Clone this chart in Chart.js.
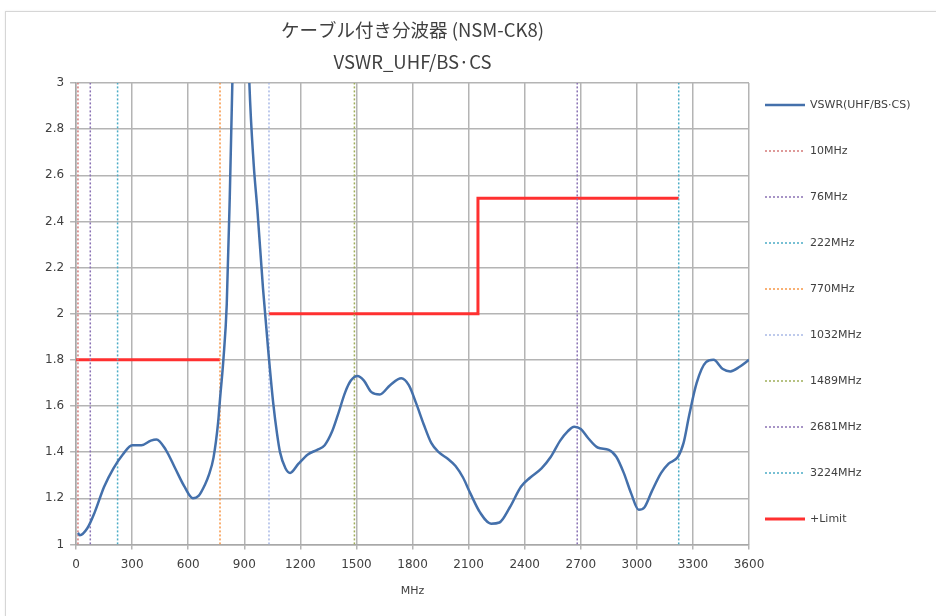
<!DOCTYPE html>
<html>
<head>
<meta charset="utf-8">
<script src="https://cdn.jsdelivr.net/npm/chart.js@4"></script>
<style>
  body { margin: 0; background: #fff; overflow: hidden; }
  #wrap { position: relative; width: 936px; height: 616px; }
  #frame { position: absolute; left: 5px; top: 11px; width: 1000px; height: 700px; border: 1px solid #d6d6d6; box-shadow: 0 0 2px rgba(0,0,0,0.08); }
  #chart { position: absolute; left: 0; top: 0; }
</style>
</head>
<body>
<div id="wrap">
  <div id="frame"></div>
  <canvas id="chart" width="936" height="616"></canvas>
</div>
<script>
// measured VSWR curve (MHz / VSWR)
const freqMHz = [10, 20, 60, 100, 150, 200, 250, 300, 350, 400, 430, 480, 530, 580, 625, 655, 690, 710, 735, 760, 770, 788, 806, 822, 836, 860, 880, 900, 927, 950, 970, 1000, 1027, 1055, 1075, 1091, 1120, 1145, 1190, 1240, 1290, 1330, 1370, 1400, 1440, 1470, 1505, 1540, 1580, 1625, 1680, 1740, 1780, 1820, 1860, 1900, 1940, 1990, 2030, 2070, 2110, 2160, 2220, 2265, 2320, 2380, 2430, 2490, 2540, 2590, 2630, 2665, 2700, 2740, 2790, 2850, 2890, 2930, 2970, 3010, 3040, 3080, 3130, 3170, 3220, 3250, 3280, 3320, 3370, 3410, 3460, 3500, 3550, 3600];
const vswr    = [1.05, 1.04, 1.07, 1.14, 1.25, 1.33, 1.39, 1.43, 1.43, 1.45, 1.455, 1.41, 1.33, 1.25, 1.20, 1.21, 1.26, 1.30, 1.375, 1.53, 1.63, 1.80, 2.04, 2.50, 3.0, 3.75, 4.1, 3.8, 3.0, 2.65, 2.45, 2.11, 1.85, 1.61, 1.48, 1.40, 1.33, 1.31, 1.35, 1.39, 1.41, 1.43, 1.49, 1.56, 1.66, 1.71, 1.73, 1.71, 1.66, 1.65, 1.69, 1.72, 1.69, 1.61, 1.52, 1.44, 1.40, 1.37, 1.34, 1.29, 1.22, 1.14, 1.09, 1.095, 1.16, 1.25, 1.29, 1.33, 1.38, 1.45, 1.49, 1.51, 1.50, 1.46, 1.42, 1.41, 1.38, 1.31, 1.22, 1.15, 1.16, 1.23, 1.31, 1.35, 1.38, 1.44, 1.56, 1.70, 1.79, 1.80, 1.76, 1.75, 1.77, 1.80];

// limit line (null = break)
const limitFreq = [0, 770, null, 1032, 2150, 2150, 3224];
const limitVal  = [1.8, 1.8, null, 2.0, 2.0, 2.5, 2.5];

// marker frequencies
const markerFreq   = [10, 76, 222, 770, 1032, 1489, 2681, 3224];
const markerLabels = ["10MHz", "76MHz", "222MHz", "770MHz", "1032MHz", "1489MHz", "2681MHz", "3224MHz"];
const markerColors = ["#d47a78", "#8a72b4", "#4bacc6", "#f79646", "#a9b9e6", "#9fae5a", "#8a72b4", "#4bacc6"];

const yMin = 1, yMax = 3, yStep = 0.2;
const xMin = 0, xMax = 3600, xStep = 300;

const titleLines = ["ケーブル付き分波器 (NSM-CK8)", "VSWR_UHF/BS·CS"];

const datasets = [];
datasets.push({
  label: "VSWR(UHF/BS·CS)",
  data: freqMHz.map((f, i) => ({ x: f, y: vswr[i] })),
  borderColor: "#4470ab",
  borderWidth: 2.5,
  pointRadius: 0,
  cubicInterpolationMode: "monotone",
  fill: false
});
markerFreq.forEach((f, i) => {
  datasets.push({
    label: markerLabels[i],
    data: [{ x: f, y: yMin }, { x: f, y: yMax }],
    borderColor: markerColors[i],
    borderWidth: 1.5,
    borderDash: [2, 2],
    pointRadius: 0,
    fill: false
  });
});
datasets.push({
  label: "+Limit",
  data: limitFreq.map((f, i) => ({ x: f, y: limitVal[i] })),
  borderColor: "#ff3030",
  borderWidth: 3,
  pointRadius: 0,
  spanGaps: false,
  fill: false
});

// legend on the right, drawn on the canvas
const sideLegend = {
  id: "sideLegend",
  afterDraw(chart) {
    const ctx = chart.ctx;
    const area = chart.chartArea;
    const x0 = area.right + 16, x1 = area.right + 56;
    ctx.save();
    ctx.font = '11px "DejaVu Sans"';
    ctx.textBaseline = "middle";
    chart.data.datasets.forEach((ds, i) => {
      const y = area.top + 22 + i * 46;
      ctx.beginPath();
      ctx.setLineDash(ds.borderDash || []);
      ctx.strokeStyle = ds.borderColor;
      ctx.lineWidth = ds.borderWidth;
      ctx.moveTo(x0, y);
      ctx.lineTo(x1, y);
      ctx.stroke();
      ctx.setLineDash([]);
      ctx.fillStyle = "#404040";
      ctx.fillText(ds.label, x1 + 5, y);
    });
    ctx.restore();
  }
};

const gridColor = "#b4b4b4";
const tickFont = { family: '"DejaVu Sans"', size: 12 };

new Chart(document.getElementById("chart").getContext("2d"), {
  type: "line",
  data: { datasets },
  plugins: [sideLegend],
  options: {
    responsive: false,
    animation: false,
    layout: { padding: { left: 39, right: 187, top: 0, bottom: 18 } },
    plugins: {
      legend: { display: false },
      tooltip: { enabled: false },
      title: {
        display: true,
        text: titleLines,
        fullSize: false,
        color: "#404040",
        font: { family: '"Noto Sans CJK JP"', size: 18.5, weight: "normal", lineHeight: "32px" },
        padding: { top: 14, bottom: 5 }
      }
    },
    scales: {
      x: {
        type: "linear",
        min: xMin, max: xMax,
        ticks: { stepSize: xStep, font: tickFont, color: "#404040", padding: 8,
                 callback: v => String(v) },
        grid: { color: gridColor, lineWidth: 1.5, tickLength: 5 },
        border: { color: "#a8a8a8", width: 1.5 },
        title: { display: true, text: "MHz", color: "#404040", font: { family: '"DejaVu Sans"', size: 11 }, padding: { top: 5, bottom: 0 } }
      },
      y: {
        type: "linear",
        min: yMin, max: yMax,
        ticks: { stepSize: yStep, font: tickFont, color: "#404040", padding: 6,
                 callback: v => String(Math.round(v * 10) / 10) },
        grid: { color: gridColor, lineWidth: 1.5, tickLength: 6 },
        border: { color: "#a8a8a8", width: 1.5 }
      }
    }
  }
});
</script>
</body>
</html>
